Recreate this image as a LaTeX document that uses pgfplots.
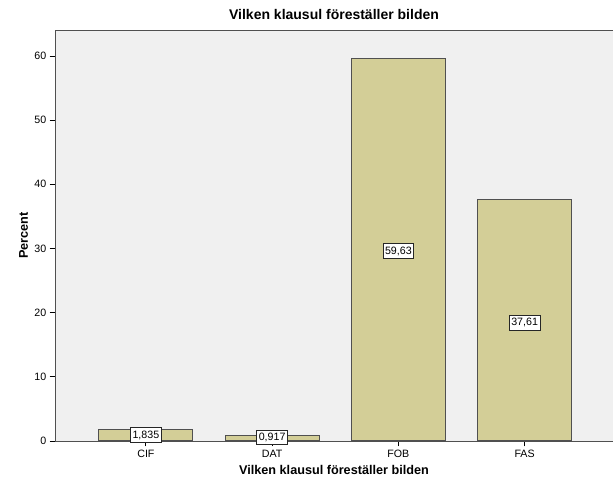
\documentclass[border=0pt]{standalone}
\usepackage{pgfplots}
\pgfplotsset{compat=1.18}
\usepackage{fontspec}
\setmainfont{Liberation Sans}
\definecolor{barfill}{RGB}{211,206,151}
\definecolor{bgc}{RGB}{240,240,240}
\definecolor{edgec}{RGB}{80,80,80}
\begin{document}
\begin{tikzpicture}[x=0.75pt,y=0.75pt]
\begin{axis}[
  at={(0,0)}, anchor=south west,
  scale only axis,
  width=418.5pt, height=308.25pt,
  xmin=-0.72, xmax=3.70,
  ymin=0, ymax=64.05,
  axis background/.style={fill=bgc},
  axis line style={edgec, line width=0.7pt},
  xtick={0,1,2,3},
  xticklabels={CIF,DAT,FOB,FAS},
  ytick={0,10,20,30,40,50,60},
  tick align=outside,
  tick pos=left,
  major tick length=4pt,
  tick style={black, line width=0.6pt},
  tick label style={font=\fontsize{8}{9.5}\selectfont},
  xticklabel style={yshift=1pt},
  yticklabel style={xshift=1pt},
  /pgf/number format/assume math mode=true,
  title={\bfseries Vilken klausul föreställer bilden},
  title style={font=\fontsize{10.5}{12.5}\selectfont, yshift=-2pt},
  xlabel={\bfseries Vilken klausul föreställer bilden},
  ylabel={\bfseries Percent},
  label style={font=\fontsize{9.5}{11}\selectfont},
  xlabel style={yshift=1pt},
  ylabel style={yshift=-2pt},
  clip=false,
]
\addplot[ybar, bar width=0.745, fill=barfill, draw=edgec, line width=0.8pt]
  coordinates {(0,1.835) (1,0.917) (2,59.63) (3,37.61)};
\addplot[only marks, mark=none, nodes near coords, point meta=explicit symbolic,
  nodes near coords style={anchor=center, fill=white, draw=black!85, line width=0.5pt,
    inner xsep=1.5pt, inner ysep=2.2pt, font=\fontsize{8}{9.5}\selectfont}]
  coordinates {(0,0.93)[1,835] (1,0.55)[0,917] (2,29.6)[59,63] (3,18.4)[37,61]};
\end{axis}
\pgfresetboundingbox
\useasboundingbox (-55,-43) rectangle (558,441);
\end{tikzpicture}
\end{document}
